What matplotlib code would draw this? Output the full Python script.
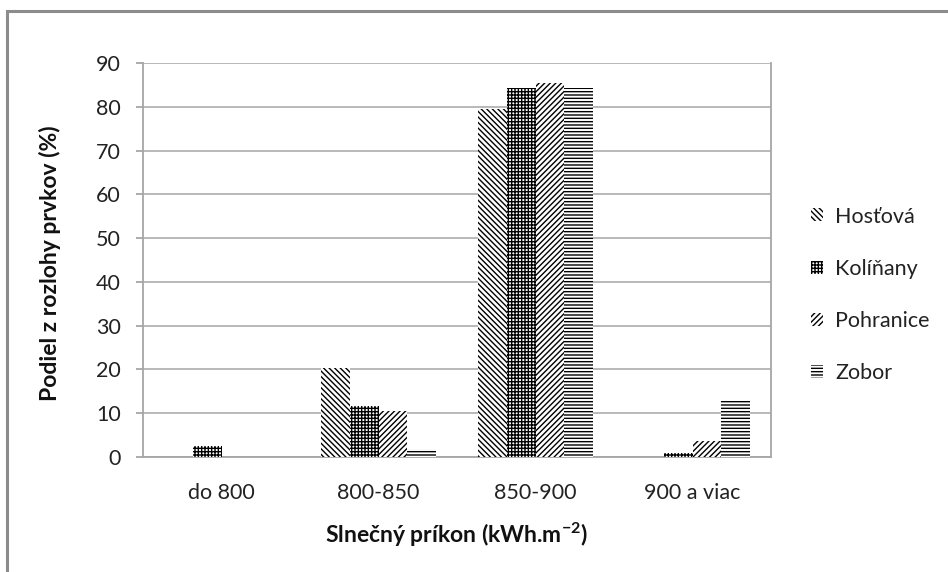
import matplotlib
matplotlib.use('Agg')
import matplotlib.pyplot as plt
import numpy as np
from matplotlib.patches import Rectangle

plt.rcParams['font.family'] = ['Lato', 'DejaVu Sans']
plt.rcParams['mathtext.fontset'] = 'custom'
plt.rcParams['mathtext.bf'] = 'Lato:bold'
plt.rcParams['mathtext.rm'] = 'Lato'
plt.rcParams['mathtext.default'] = 'bf'
plt.rcParams['hatch.linewidth'] = 1.0
plt.rcParams['hatch.color'] = 'black'

# data
categories = ['do 800', '800-850', '850-900', '900 a viac']
sites = ['Hosťová', 'Kolíňany', 'Pohranice', 'Zobor']
hostova = [0.0, 20.3, 79.6, 0.0]
kolinany = [2.4, 11.6, 84.4, 0.85]
pohranice = [0.0, 10.5, 85.5, 3.65]
zobor = [0.0, 1.8, 84.4, 12.9]
series = [hostova, kolinany, pohranice, zobor]
hatches = ['\\' * 6, '+' * 5, '/' * 6, '-' * 5]
yticks = [0, 10, 20, 30, 40, 50, 60, 70, 80, 90]

fig = plt.figure(figsize=(9.48, 5.72), dpi=100)
ax = fig.add_axes([143 / 948, 115 / 572, 628 / 948, 394 / 572])

x = np.arange(len(categories))
bw = 1 / 5.5
for i, (vals, name, h) in enumerate(zip(series, sites, hatches)):
    ax.bar(x + (i - 1.5) * bw, vals, width=bw, color='white', edgecolor='black',
           linewidth=0, hatch=h, label=name, zorder=3)

ax.set_xlim(-0.5, 3.5)
ax.set_ylim(0, 90)
ax.set_yticks(yticks)
ax.set_xticks(x)
ax.set_xticklabels(categories)
ax.grid(axis='y', color='#b3b3b3', linewidth=1.3, zorder=0)
for s in ax.spines.values():
    s.set_color('#a6a6a6')
    s.set_linewidth(1.3)
ax.spines['top'].set_visible(False)
ax.tick_params(axis='x', length=0, pad=19, labelsize=15.5, colors='#222222')
ax.tick_params(axis='y', length=5, width=1.3, color='#a6a6a6', pad=11, labelsize=15.5,
               labelcolor='#222222')

fig.text(457 / 948, 1 - 535 / 572, r'Slnečný príkon (kWh.m$^{-2}$)', ha='center', va='center',
         fontsize=16.5, fontweight='bold', color='#111111')
fig.text(50 / 948, 1 - 263 / 572, 'Podiel z rozlohy prvkov (%)', ha='center', va='center',
         rotation=90, fontsize=16.5, fontweight='bold', color='#111111')

leg = ax.legend(loc='center left', bbox_to_anchor=(792 / 948, 1 - 295 / 572),
                bbox_transform=fig.transFigure, frameon=False, fontsize=15.5,
                handlelength=0.55, handleheight=0.55, handletextpad=0.55, labelspacing=1.5)
for t in leg.get_texts():
    t.set_color('#222222')

# outer chart border
fig.patches.append(Rectangle((7 / 948, -0.1), 1.1, 1 - 10.5 / 572 + 0.1, transform=fig.transFigure,
                             fill=False, edgecolor='#8c8c8c', linewidth=2.2, clip_on=False))

fig.savefig('out.png', dpi=100)
